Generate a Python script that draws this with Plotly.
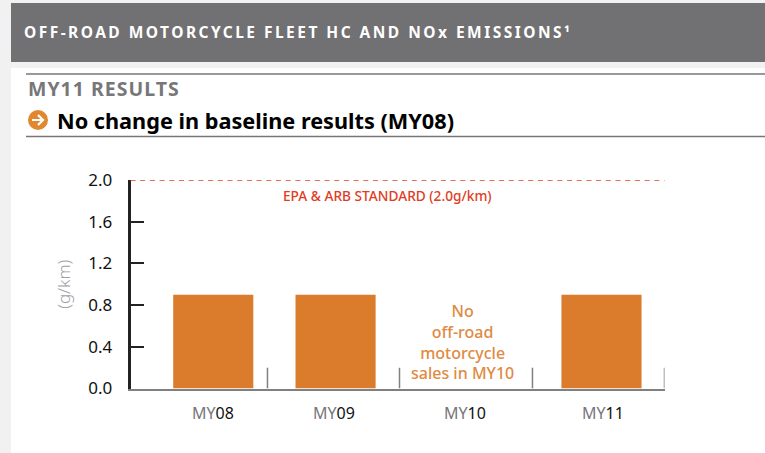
import plotly.graph_objects as go

W, H = 765, 453
categories = ["MY08", "MY09", "MY10", "MY11"]
values = [0.9, 0.9, None, 0.9]
y_ticks = [0.0, 0.4, 0.8, 1.2, 1.6, 2.0]
y_labels = ["0.0", "0.4", "0.8", "1.2", "1.6", "2.0"]
standard_value = 2.0
standard_label = "EPA & ARB STANDARD (2.0g/km)"
no_sales_note = "No<br>off-road<br>motorcycle<br>sales in MY10"
header_title = "OFF-ROAD MOTORCYCLE FLEET HC AND NOx EMISSIONS¹"
section_title = "MY11 RESULTS"
headline = "No change in baseline results (MY08)"
unit = "(g/km)"

ORANGE = "#db7c2d"
NOTE = "#e08a42"
RED = "#e03c25"
GREY = "#717072"
FONT = "Noto Sans"
bar_shift = [0.12, 0.036, 0.0, 0.028]
label_shift = [16, 3, 1, 5]
separator_x = [0.526, 1.515, 2.511, 3.5]
bar_width = 0.6


def px(x):
    return x / W


def py(y):
    return 1 - y / H


def rect(x0, y0, x1, y1, color):
    return dict(type="rect", xref="paper", yref="paper", x0=px(x0), x1=px(x1),
                y0=py(y0), y1=py(y1), fillcolor=color, line_width=0, layer="below")


def hline(x0, x1, y, color, width=1.5):
    return dict(type="line", xref="paper", yref="paper", x0=px(x0), x1=px(x1),
                y0=py(y), y1=py(y), line=dict(color=color, width=width))


fig = go.Figure()
fig.add_trace(go.Bar(
    x=categories, y=values, width=bar_width,
    offset=[s - bar_width / 2 for s in bar_shift],
    marker=dict(color=ORANGE, line_width=0),
    showlegend=False, hoverinfo="skip",
))

shapes = [
    rect(0, 0, W, H, "#f1f1f1"),
    rect(11, 68, W, H, "#ffffff"),
    rect(11, 3, W, 62, GREY),
    hline(26, W, 74, "#77777a"),
    hline(26, W, 136.5, "#77777a"),
    dict(type="circle", xref="paper", yref="paper", x0=px(28), x1=px(48),
         y0=py(130), y1=py(110), fillcolor="#e0872f", line_width=0),
    dict(type="path", xref="paper", yref="paper",
         path=(f"M {px(32)} {py(120)} L {px(43)} {py(120)} "
               f"M {px(38)} {py(115)} L {px(43)} {py(120)} L {px(38)} {py(125)}"),
         line=dict(color="white", width=2.2)),
    dict(type="line", xref="x domain", yref="y", x0=0, x1=1,
         y0=standard_value, y1=standard_value,
         line=dict(color=RED, width=1.5, dash="5px,4.7px")),
]
for boundary in separator_x:
    shapes.append(dict(type="line", xref="x", yref="y", x0=boundary, x1=boundary,
                       y0=0, y1=0.2, line=dict(color="#808082", width=1.5)))

annotations = [
    dict(text=f'<span style="letter-spacing:2.47px">{header_title}</span>',
         xref="paper", yref="paper", x=px(22), y=py(32), xanchor="left", yanchor="middle",
         showarrow=False, font=dict(family=FONT, size=15.5, color="white", weight=700)),
    dict(text=f'<span style="letter-spacing:1px">{section_title}</span>',
         xref="paper", yref="paper", x=px(26), y=py(88), xanchor="left", yanchor="middle",
         showarrow=False, font=dict(family=FONT, size=19.5, color="#77777a", weight=700)),
    dict(text=headline, xref="paper", yref="paper", x=px(55), y=py(120),
         xanchor="left", yanchor="middle", showarrow=False,
         font=dict(family=FONT, size=21.7, color="#000000", weight=700)),
    dict(text=standard_label, xref="x", yref="y", x="MY10", y=1.85, xshift=-77,
         showarrow=False, font=dict(family=FONT, size=13.7, color=RED, weight=500)),
    dict(text=no_sales_note, xref="x", yref="y", x="MY10", y=0.0, yshift=3, xshift=-2,
         yanchor="bottom", showarrow=False, align="center",
         font=dict(family=FONT, size=16, color=NOTE, weight=500)),
]
for cat, shift in zip(categories, label_shift):
    annotations.append(dict(
        text=f'<span style="color:#77777a">{cat[:2]}</span>{cat[2:]}',
        xref="x", yref="paper", x=cat, y=py(413), xshift=shift, yanchor="middle",
        showarrow=False, font=dict(family=FONT, size=16, color="#111111")))

fig.update_layout(
    width=W, height=H, margin=dict(l=0, r=0, t=0, b=0, autoexpand=False),
    paper_bgcolor="white", plot_bgcolor="rgba(0,0,0,0)",
    font=dict(family=FONT), shapes=shapes, annotations=annotations, bargap=0.4,
    xaxis=dict(domain=[px(130.5), px(664.5)], type="category", categoryorder="array",
               categoryarray=categories, range=[-0.5, 3.5], showticklabels=False,
               ticks="", showgrid=False, zeroline=False, showline=True,
               linecolor="#808082", linewidth=2, automargin=False),
    yaxis=dict(domain=[py(388.5), py(180)], range=[0, 2.0], tickvals=y_ticks,
               ticktext=y_labels, ticks="inside", ticklen=14, tickwidth=1.5,
               tickcolor="#222222", showgrid=False, zeroline=False, showline=True,
               linecolor="#222222", linewidth=2.5, ticklabelstandoff=12, automargin=False,
               tickfont=dict(family=FONT, size=17, color="#111111"),
               title=dict(text=unit, standoff=14,
                          font=dict(family=FONT, size=17, color="#a0a0a2", weight=300))),
)
fig.write_html("out.html", config={"displayModeBar": False},
               post_script="document.body.style.margin='0';document.body.style.overflow='hidden';")
